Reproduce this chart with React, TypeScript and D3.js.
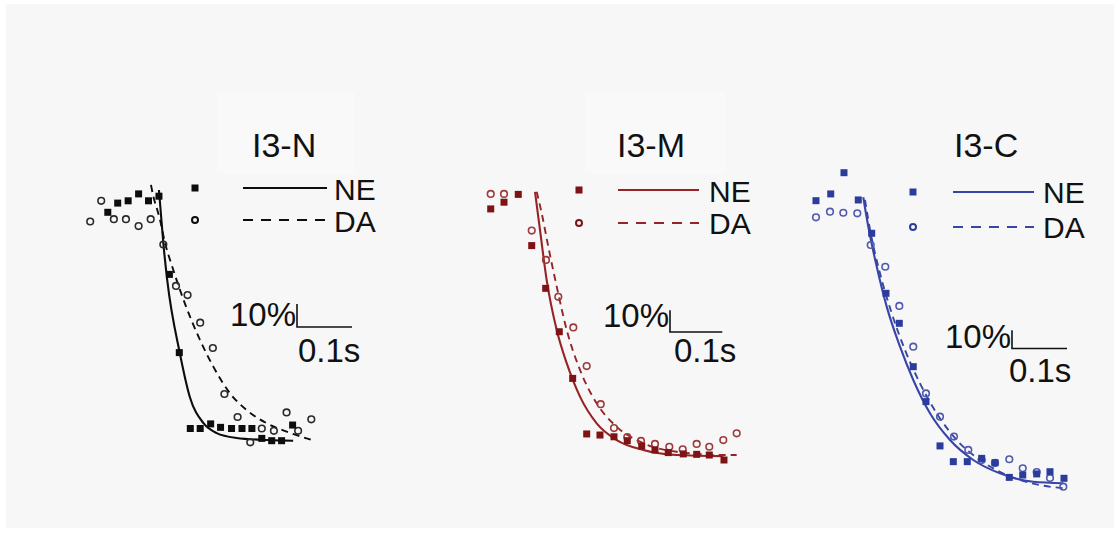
import React from "react";
import * as d3 from "d3";

// ---------- text ----------
const PANEL_TITLES = ["I3-N", "I3-M", "I3-C"];
const SERIES_NAMES = ["NE", "DA"];
const SCALE_LABELS = ["10%", "0.1s"];
const SCALE_VALUES = [10, 100]; // 10 %, 100 ms

// ---------- I3-N (time ms, value %) ----------
const N_NE_T = [36, 54, 73, 92, 110, 129, 148, 166, 186, 204, 223, 241, 261, 280, 298, 316, 334, 352, 372];
const N_NE_V = [99, 103, 104, 107, 104, 106, 72, 38, 5, 5, 7, 5.5, 5, 5, 5, 0.7, -0.3, -0.3, 6.5];
const N_DA_T = [4, 24, 47, 69, 92, 114, 137, 160, 181, 204, 227, 248, 272, 295, 316, 338, 361, 382, 406];
const N_DA_V = [95, 104, 96, 96, 93, 96, 85, 67, 63, 51, 40, 20, 10, -1, 5, 4, 12, 4, 9];
const N_NE_FIT = [[129, 108.7], [132, 100], [137, 85.5], [144, 69.6], [167, 37.7], [185, 18.8], [210, 7.3], [234, 3.0], [270, 0.9], [325, 0], [373, -0.3]];
const N_DA_FIT = [[114.5, 110.9], [118.2, 106.5], [126, 100], [130.9, 95.7], [140, 85.7], [152.2, 76.1], [167.3, 65.2], [185.5, 53.6], [203.6, 43.5], [227.8, 31.9], [258.2, 20.3], [288.5, 13], [324.9, 7.3], [361.3, 3.6], [406.7, 0]];

// ---------- I3-M ----------
const M_NE_T = [5.2, 30.6, 57.9, 83.6, 110.3, 136.3, 161.9, 188.7, 214.1, 240.9, 266.3, 293.9, 319.3, 344.7, 373.4, 399, 423.1, 451.2];
const M_NE_V = [113.4, 116.5, 120.1, 96.5, 76.8, 56.8, 35.3, 9.7, 9.2, 8.4, 6.6, 4.1, 2.3, 1.1, 0.5, 0.3, 0, -2.3];
const M_DA_T = [5.2, 30.6, 83.6, 110.9, 134.4, 163.1, 188.7, 215.5, 240.9, 266.3, 292.5, 319.3, 346.7, 372.3, 399, 423.1, 449.9, 475.5];
const M_DA_V = [120.3, 120.3, 103.4, 89.9, 72.9, 58.8, 41, 23.4, 12.4, 8.3, 6.5, 5.1, 3.8, 2.6, 5.1, 3.8, 6.9, 10];
const M_NE_FIT = [[89.9, 121.3], [99.4, 103.7], [112.2, 80.6], [131.4, 57.6], [150.5, 42.3], [175.9, 26.9], [207.8, 14.6], [246.1, 6.9], [296.9, 2.3], [360.8, 0], [449.9, -0.5]];
const M_DA_FIT = [[93.1, 121.3], [102.7, 111.4], [115.3, 96], [131.4, 77.6], [150.5, 57.6], [175.9, 39.2], [207.8, 23.8], [246.1, 13], [296.9, 5.4], [360.8, 1.5], [449.9, 0], [475.5, 0]];

// ---------- I3-C ----------
const C_NE_T = [3.6, 30.4, 54.5, 80.5, 104.9, 130.9, 155.1, 180.5, 203.6, 229.1, 253.3, 278.7, 304.9, 329.1, 355.1, 379.5, 404.9, 429.1, 454.5];
const C_NE_V = [157, 160.7, 172.3, 157.4, 139.2, 106.4, 90, 66.3, 47.2, 23, 14.4, 14.4, 16.2, 13.8, 5.8, 7.1, 7.7, 8.9, 5.3];
const C_DA_T = [3.6, 29.1, 53.3, 78.7, 103.1, 129.6, 155.1, 180.5, 203.6, 229.1, 254.5, 280.5, 304.9, 329.1, 355.1, 379.5, 404.9, 429.1, 453.3];
const C_DA_V = [147.9, 151, 150.4, 150.1, 132.8, 120.9, 99.5, 77.2, 51.7, 39, 28.1, 20.8, 15.3, 13.7, 15.7, 10.8, 8.7, 5.5, 0.7];
const C_NE_FIT = [[89.6, 158.9], [98.7, 142.8], [114, 121], [132.2, 99.1], [156.4, 77.2], [180.5, 59], [210.9, 40.8], [247.3, 26.2], [289.6, 15.3], [338.2, 8], [398.7, 3.4], [453.3, 2.6]];
const C_DA_FIT = [[92.7, 157.4], [103.1, 139.2], [120, 117.3], [141.3, 95.5], [165.5, 75.4], [192.7, 57.2], [223.1, 40.8], [259.5, 26.2], [301.8, 15.3], [350.4, 7.1], [410.9, 1.6], [456.4, -0.2]];

const zip = (t: number[], v: number[]) => t.map((x, i) => [x, v[i]] as [number, number]);

type Panel = {
  title: string;
  ne: [number, number][];
  da: [number, number][];
  neFit: number[][];
  daFit: number[][];
  x0: number; pxMs: number; y0: number; pxPct: number;
  markColor: string; circColor: string; lineColor: string;
  titleX: number; titleY: number;
  legSqX: number; legSqY: number; legCircY: number;
  legLineX1: number; legLineX2: number;
  legTextX: number; legNEY: number; legDAY: number;
  sbX: number; sbY: number; sb10Y: number; sbSY: number; sbSX: number;
  box?: [number, number, number, number];
};

const PANELS: Panel[] = [
  {
    title: PANEL_TITLES[0], ne: zip(N_NE_T, N_NE_V), da: zip(N_DA_T, N_DA_V), neFit: N_NE_FIT, daFit: N_DA_FIT,
    x0: 88, pxMs: 0.55, y0: 440, pxPct: 2.3,
    markColor: "#0d0d0d", circColor: "#2a2a2a", lineColor: "#0d0d0d",
    titleX: 252, titleY: 157,
    legSqX: 195, legSqY: 188, legCircY: 220, legLineX1: 243, legLineX2: 327,
    legTextX: 334, legNEY: 200, legDAY: 232,
    sbX: 297, sbY: 327, sb10Y: 326, sbSY: 362, sbSX: 298,
    box: [217, 92, 138, 82],
  },
  {
    title: PANEL_TITLES[1], ne: zip(M_NE_T, M_NE_V), da: zip(M_DA_T, M_DA_V), neFit: M_NE_FIT, daFit: M_DA_FIT,
    x0: 488, pxMs: 0.523, y0: 455, pxPct: 2.17,
    markColor: "#7e1315", circColor: "#9c3a3d", lineColor: "#962426",
    titleX: 617, titleY: 157,
    legSqX: 579, legSqY: 190, legCircY: 223, legLineX1: 618, legLineX2: 699,
    legTextX: 709, legNEY: 202, legDAY: 234,
    sbX: 670, sbY: 332, sb10Y: 327, sbSY: 362, sbSX: 674,
    box: [585, 92, 140, 82],
  },
  {
    title: PANEL_TITLES[2], ne: zip(C_NE_T, C_NE_V), da: zip(C_DA_T, C_DA_V), neFit: C_NE_FIT, daFit: C_DA_FIT,
    x0: 814, pxMs: 0.55, y0: 488, pxPct: 1.83,
    markColor: "#2b3d9c", circColor: "#4f5aae", lineColor: "#3845a6",
    titleX: 954, titleY: 157,
    legSqX: 913, legSqY: 192, legCircY: 227, legLineX1: 953, legLineX2: 1034,
    legTextX: 1043, legNEY: 203, legDAY: 238,
    sbX: 1012, sbY: 348.5, sb10Y: 348, sbSY: 382, sbSX: 1009,
  },
];

const FONT = "'Liberation Sans', Arial, Helvetica, sans-serif";

function PanelView({ p }: { p: Panel }) {
  const xs = d3.scaleLinear().domain([0, 500]).range([p.x0, p.x0 + 500 * p.pxMs]);
  const ys = d3.scaleLinear().domain([0, 200]).range([p.y0, p.y0 - 200 * p.pxPct]);
  const line = d3
    .line<number[]>()
    .x((d) => xs(d[0]))
    .y((d) => ys(d[1]))
    .curve(d3.curveMonotoneX);
  const vLen = ys(0) - ys(SCALE_VALUES[0]);
  const hLen = xs(SCALE_VALUES[1]) - xs(0);
  const sq = 7;
  return (
    <g>
      {p.box && <rect x={p.box[0]} y={p.box[1]} width={p.box[2]} height={p.box[3]} fill="#f9f9f9" />}
      <path d={line(p.daFit) || ""} fill="none" stroke={p.lineColor} strokeWidth={1.9} strokeDasharray="7,5" />
      <path d={line(p.neFit) || ""} fill="none" stroke={p.lineColor} strokeWidth={2.1} />
      {p.da.map((d, i) => (
        <circle key={"c" + i} cx={xs(d[0])} cy={ys(d[1])} r={3.3} fill="none" stroke={p.circColor} strokeWidth={1.6} />
      ))}
      {p.ne.map((d, i) => (
        <rect key={"s" + i} x={xs(d[0]) - sq / 2} y={ys(d[1]) - sq / 2} width={sq} height={sq} fill={p.markColor} />
      ))}
      {/* title */}
      <text x={p.titleX} y={p.titleY} fontFamily={FONT} fontSize={34} fill="#111">{p.title}</text>
      {/* legend */}
      <rect x={p.legSqX - 3.5} y={p.legSqY - 3.5} width={7} height={7} fill={p.markColor} />
      <circle cx={p.legSqX} cy={p.legCircY} r={3} fill="none" stroke={p.markColor} strokeWidth={2} />
      <line x1={p.legLineX1} x2={p.legLineX2} y1={p.legSqY} y2={p.legSqY} stroke={p.lineColor} strokeWidth={2} />
      <line x1={p.legLineX1} x2={p.legLineX2} y1={p.legCircY} y2={p.legCircY} stroke={p.lineColor} strokeWidth={1.8} strokeDasharray="10,8" />
      <text x={p.legTextX} y={p.legNEY} fontFamily={FONT} fontSize={30} fill="#111">{SERIES_NAMES[0]}</text>
      <text x={p.legTextX} y={p.legDAY} fontFamily={FONT} fontSize={30} fill="#111">{SERIES_NAMES[1]}</text>
      {/* scale bar */}
      <path d={`M${p.sbX},${p.sbY - vLen}V${p.sbY}H${p.sbX + hLen}`} fill="none" stroke="#111" strokeWidth={1.6} />
      <text x={p.sbX - 1} y={p.sb10Y} textAnchor="end" fontFamily={FONT} fontSize={33} fill="#111">{SCALE_LABELS[0]}</text>
      <text x={p.sbSX} y={p.sbSY} fontFamily={FONT} fontSize={33} fill="#111">{SCALE_LABELS[1]}</text>
    </g>
  );
}

export default function App() {
  return (
    <div style={{ position: "absolute", left: 0, top: 0 }}>
      <svg width={1120} height={533} style={{ display: "block" }}>
        <rect x={0} y={0} width={1120} height={533} fill="#ffffff" />
        <rect x={6} y={4} width={1108} height={524} fill="#f7f7f7" />
        {PANELS.map((p, i) => (
          <PanelView key={i} p={p} />
        ))}
      </svg>
    </div>
  );
}
